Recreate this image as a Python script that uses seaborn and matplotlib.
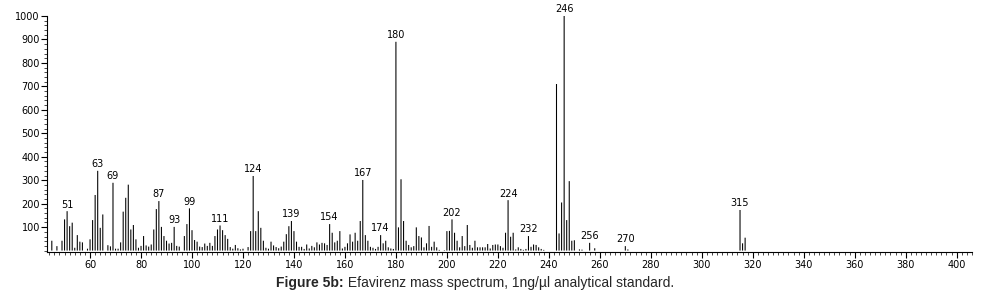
import matplotlib
matplotlib.use("Agg")
import matplotlib.pyplot as plt
import seaborn as sns
import pandas as pd
from matplotlib.ticker import MultipleLocator

# ---- data (m/z and relative abundance) ----
mz = [45, 47, 49, 50, 51, 52, 53, 54, 55, 56, 57, 59, 60, 61, 62, 63, 64, 65, 67, 68,
      69, 70, 71, 72, 73, 74, 75, 76, 77, 78, 79, 80, 81, 82, 83, 84, 85, 86, 87, 88,
      89, 90, 91, 92, 93, 94, 95, 97, 98, 99, 100, 101, 102, 103, 104, 105, 106, 107, 108, 109,
      110, 111, 112, 113, 114, 115, 116, 117, 118, 119, 120, 122, 123, 124, 125, 126, 127, 128, 129, 130,
      131, 132, 133, 134, 135, 136, 137, 138, 139, 140, 141, 142, 143, 144, 145, 146, 147, 148, 149, 150,
      151, 152, 153, 154, 155, 156, 157, 158, 159, 160, 161, 162, 163, 164, 165, 166, 167, 168, 169, 170,
      171, 172, 173, 174, 175, 176, 177, 178, 179, 180, 181, 182, 183, 184, 185, 186, 187, 188, 189, 190,
      191, 192, 193, 194, 195, 196, 197, 199, 200, 201, 202, 203, 204, 205, 206, 207, 208, 209, 210, 211,
      212, 213, 214, 215, 216, 217, 218, 219, 220, 221, 222, 223, 224, 225, 226, 227, 228, 229, 230, 231,
      232, 233, 234, 235, 236, 237, 238, 243, 244, 245, 246, 247, 248, 249, 250, 252, 253, 256, 258, 270,
      271, 315, 316, 317]
abundance = [42, 19, 42, 133, 168, 104, 119, 12, 66, 38, 35, 8, 48, 130, 237, 340, 97, 154, 23, 18,
             289, 8, 8, 35, 166, 225, 281, 90, 109, 48, 12, 20, 62, 22, 17, 26, 90, 177, 211, 101,
             62, 42, 30, 33, 101, 20, 17, 62, 113, 180, 87, 45, 38, 17, 15, 30, 20, 33, 20, 62,
             90, 107, 87, 66, 50, 15, 8, 24, 10, 5, 8, 15, 83, 318, 83, 168, 97, 42, 12, 8,
             38, 22, 15, 10, 17, 38, 70, 104, 126, 83, 38, 16, 16, 7, 26, 9, 20, 14, 35, 26,
             33, 31, 24, 113, 76, 35, 42, 83, 9, 16, 31, 69, 38, 76, 42, 126, 301, 66, 42, 16,
             12, 7, 16, 66, 31, 42, 14, 9, 7, 890, 99, 304, 126, 42, 24, 14, 19, 99, 62, 56,
             14, 31, 105, 16, 38, 14, 3, 2, 83, 84, 133, 76, 42, 14, 62, 19, 109, 24, 12, 42,
             14, 14, 14, 14, 28, 9, 24, 26, 26, 19, 12, 76, 215, 59, 76, 5, 14, 7, 3, 7,
             62, 16, 26, 24, 14, 7, 3, 710, 73, 205, 1000, 130, 296, 42, 44, 5, 4, 33, 10, 19,
             5, 173, 31, 55]
labeled_peaks = [51, 63, 69, 87, 93, 99, 111, 124, 139, 154, 167, 174, 180, 202,
                 224, 232, 246, 256, 270, 315]
y_tick_values = [100, 200, 300, 400, 500, 600, 700, 800, 900, 1000]
x_tick_values = list(range(60, 401, 20))
caption_bold = "Figure 5b:"
caption_text = " Efavirenz mass spectrum, 1ng/µl analytical standard."

df = pd.DataFrame({"mz": mz, "abundance": abundance})

sns.set_theme(style="ticks")
plt.rcParams["font.family"] = ["DejaVu Sans"]

fig = plt.figure(figsize=(9.81, 2.95), dpi=100)
ax = fig.add_axes([0.0484, 0.1458, 0.9424, 0.8])

sns.histplot(data=df, x="mz", weights="abundance", discrete=True, shrink=0.42,
             color="black", alpha=1.0, linewidth=0, ax=ax)
for patch in ax.patches:
    patch.set_snap(False)

ax.set_xlim(43.3, 406)
ax.set_ylim(-6, 1000)

lookup = dict(zip(mz, abundance))
for p in labeled_peaks:
    ax.text(p, lookup[p] + 7, str(p), ha="center", va="bottom", fontsize=7,
            color="black", clip_on=False)

ax.set_yticks(y_tick_values)
ax.set_xticks(x_tick_values)
ax.yaxis.set_minor_locator(MultipleLocator(20))
ax.xaxis.set_minor_locator(MultipleLocator(2))
ax.tick_params(axis="both", which="major", direction="out", length=4, width=0.8,
               labelsize=7, pad=1.5, colors="black", bottom=True, left=True)
ax.tick_params(axis="both", which="minor", direction="out", length=2, width=0.5,
               colors="black", bottom=True, left=True)
ax.tick_params(axis="x", which="major", pad=2)
ax.set_xlabel("")
ax.set_ylabel("")

for side in ["top", "right"]:
    ax.spines[side].set_visible(False)
for side in ["left", "bottom"]:
    ax.spines[side].set_color("black")
    ax.spines[side].set_linewidth(0.8)

# caption
t1 = fig.text(0.2815, 0.04, caption_bold, fontsize=10, fontweight="bold",
              family=["Liberation Sans", "DejaVu Sans"], va="center", ha="left")
fig.canvas.draw()
bb = t1.get_window_extent()
x_next = bb.x1 / fig.bbox.width
fig.text(x_next, 0.04, caption_text, fontsize=10,
         family=["Liberation Sans", "DejaVu Sans"], va="center", ha="left")

fig.savefig("out.png", dpi=100, facecolor="white")
